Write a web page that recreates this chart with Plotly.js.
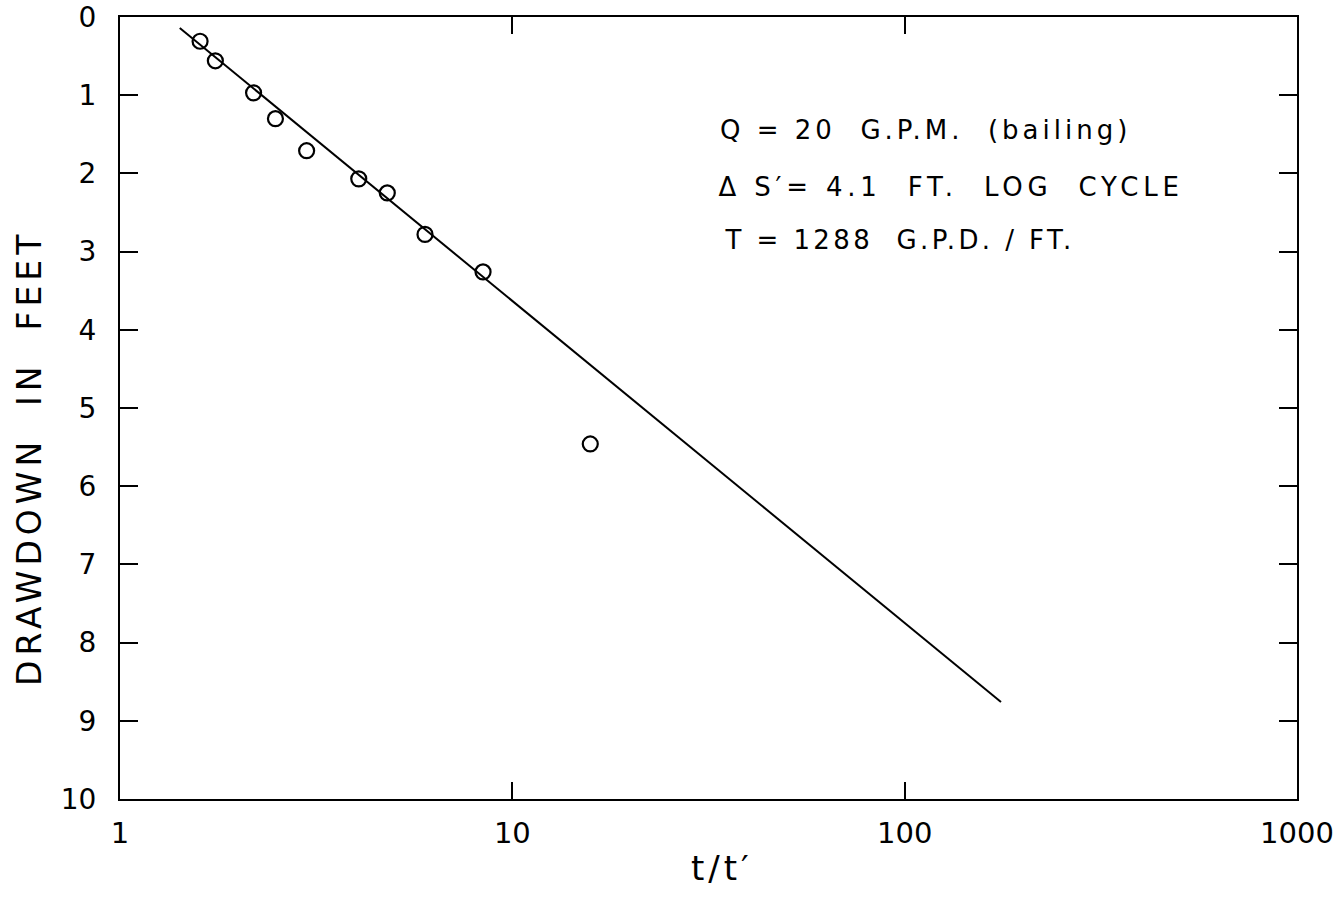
<!DOCTYPE html>
<html>
<head>
<meta charset="utf-8">
<script src="https://cdn.plot.ly/plotly-3.0.1.min.js"></script>
<style>html,body{margin:0;padding:0;background:#fff;}</style>
</head>
<body>
<div id="chart" style="width:1338px;height:899px;"></div>
<script>
// Observed data: t/t' ratio vs residual drawdown (ft)
const ratioObs = [1.60, 1.75, 2.19, 2.49, 2.99, 4.06, 4.80, 5.99, 8.42, 15.8];
const drawdownObs = [0.31, 0.56, 0.97, 1.30, 1.71, 2.07, 2.25, 2.78, 3.26, 5.46];
// Fitted straight line (semi-log)
const ratioFit = [1.42, 176];
const drawdownFit = [0.14, 8.76];
// Tick labels
const xTickVals = [1, 10, 100, 1000];
const xTickText = ["1", "10", "100", "1000"];
const yTickVals = [0, 1, 2, 3, 4, 5, 6, 7, 8, 9, 10];
const yTickText = ["0", "1", "2", "3", "4", "5", "6", "7", "8", "9", "10"];
// Annotation text
const noteLines = ["Q = 20  G.P.M.  (bailing)", "Δ S′= 4.1  FT.  LOG  CYCLE", "T = 1288  G.P.D. / FT."];

const fontFam = "DejaVu Sans, sans-serif";

const traces = [
  {
    x: ratioFit, y: drawdownFit, mode: "lines", type: "scatter",
    line: {color: "#000", width: 2}, hoverinfo: "skip", showlegend: false
  },
  {
    x: ratioObs, y: drawdownObs, mode: "markers", type: "scatter",
    marker: {symbol: "circle-open", size: 15, color: "#000", line: {width: 2.2, color: "#000"}},
    showlegend: false
  }
];

// pixel helpers for paper coordinates (plot area 120..1297 x 17..799)
const px = v => (v - 120) / 1177;
const py = v => 1 - (v - 17) / 782;

const noteX = [925, 951, 899];
const noteY = [130, 187, 240];
const annotations = noteLines.map((t, i) => ({
  text: t, xref: "paper", yref: "paper",
  x: px(noteX[i]), y: py(noteY[i]),
  xanchor: "center", yanchor: "middle", showarrow: false,
  font: {family: fontFam, size: 26, color: "#000"}
}));
annotations.push({
  text: "DRAWDOWN  IN  FEET", xref: "paper", yref: "paper",
  x: px(29), y: py(458), textangle: -90,
  xanchor: "center", yanchor: "middle", showarrow: false,
  font: {family: fontFam, size: 33, color: "#000"}
});
annotations.push({
  text: "t/t′", xref: "paper", yref: "paper",
  x: px(722), y: py(868),
  xanchor: "center", yanchor: "middle", showarrow: false,
  font: {family: fontFam, size: 34, color: "#000"}
});

const layout = {
  width: 1338, height: 899,
  margin: {l: 120, r: 41, t: 17, b: 100},
  paper_bgcolor: "#fff", plot_bgcolor: "#fff",
  showlegend: false,
  xaxis: {
    type: "log", range: [0, 3],
    tickvals: xTickVals, ticktext: xTickText,
    ticks: "inside", ticklen: 17, tickwidth: 2, tickcolor: "#000",
    mirror: "ticks", showline: true, linewidth: 2, linecolor: "#000",
    showgrid: false, zeroline: false,
    tickfont: {family: fontFam, size: 29, color: "#000"},
    ticklabelstandoff: 7
  },
  yaxis: {
    range: [10, 0],
    tickvals: yTickVals, ticktext: yTickText,
    ticks: "inside", ticklen: 18, tickwidth: 2, tickcolor: "#000",
    mirror: "ticks", showline: true, linewidth: 2, linecolor: "#000",
    showgrid: false, zeroline: false,
    tickfont: {family: fontFam, size: 28, color: "#000"},
    ticklabelstandoff: 16
  },
  annotations: annotations
};

const spacing = ["4px", "4.8px", "3.4px", "5px", "4px"];
Plotly.newPlot("chart", traces, layout, {staticPlot: true, displayModeBar: false}).then(gd => {
  gd.querySelectorAll(".annotation-text").forEach((el, i) => {
    el.style.letterSpacing = spacing[i] || "0px";
  });
});
</script>
</body>
</html>
